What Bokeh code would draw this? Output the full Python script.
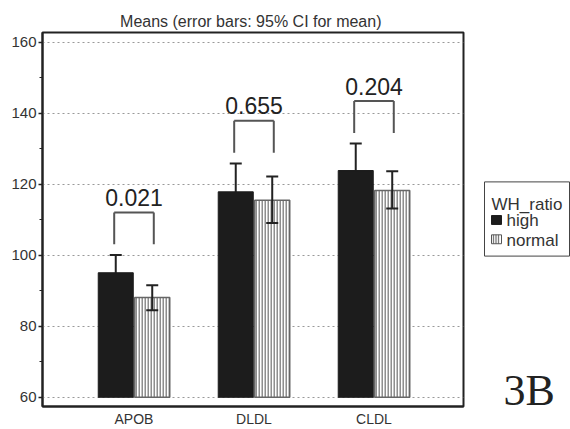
from bokeh.plotting import figure
from bokeh.layouts import row
from bokeh.models import FixedTicker, Range1d
from bokeh.core.properties import value
from bokeh.embed import file_html
from bokeh.resources import INLINE

# ---- data ----
categories = ["APOB", "DLDL", "CLDL"]
high_mean = [95.1, 117.9, 123.9]
high_lower = [90.0, 109.9, 116.3]
high_upper = [100.1, 125.9, 131.5]
normal_mean = [88.1, 115.5, 118.3]
normal_lower = [84.5, 109.1, 113.2]
normal_upper = [91.6, 122.2, 123.7]
p_values = ["0.021", "0.655", "0.204"]
y_ticks = [60, 80, 100, 120, 140, 160]
y_minor = [70, 90, 110, 130, 150]
series_names = ["high", "normal"]
legend_title = "WH_ratio"
panel_tag = "3B"

FONT = "Liberation Sans"
TXT = "#333333"
pos = [1, 2, 3]
off = 0.152
bw = 0.292
cap = 0.05
stripe_step = 0.025
BORDER_TOP = 32
BORDER_BOTTOM = 19

p = figure(width=465, height=429, output_backend="svg", toolbar_location=None,
           x_range=Range1d(0.2375, 3.746), y_range=Range1d(57.41, 162.79),
           min_border_left=42, min_border_right=2,
           min_border_top=BORDER_TOP, min_border_bottom=BORDER_BOTTOM,
           title="Means  (error bars: 95% CI for mean)")
p.title.align = "center"
p.title.text_font = FONT
p.title.text_font_size = "16px"
p.title.text_font_style = "normal"
p.title.text_color = TXT
p.title.standoff = 5

p.outline_line_color = "#222222"
p.outline_line_width = 2
p.background_fill_color = "white"
p.border_fill_color = "white"

p.xgrid.grid_line_color = None
p.ygrid.grid_line_color = "#999999"
p.ygrid.grid_line_dash = "2 3"
p.ygrid.grid_line_width = 1

p.yaxis.ticker = FixedTicker(ticks=y_ticks, minor_ticks=y_minor)
p.yaxis.axis_line_color = "#222222"
p.yaxis.axis_line_width = 2
p.yaxis.major_tick_out = 4
p.yaxis.major_tick_in = 0
p.yaxis.minor_tick_out = 3
p.yaxis.minor_tick_in = 0
p.yaxis.major_tick_line_color = "#222222"
p.yaxis.minor_tick_line_color = "#222222"
p.yaxis.major_tick_line_width = 1.5
p.yaxis.major_label_text_font = FONT
p.yaxis.major_label_text_font_size = "15px"
p.yaxis.major_label_text_color = TXT
p.yaxis.major_label_standoff = 2

p.xaxis.ticker = FixedTicker(ticks=pos)
p.xaxis.major_label_overrides = {k: c for k, c in zip(pos, categories)}
p.xaxis.major_tick_line_color = None
p.xaxis.minor_tick_line_color = None
p.xaxis.major_tick_out = 0
p.xaxis.major_tick_in = 0
p.xaxis.axis_line_color = "#222222"
p.xaxis.axis_line_width = 2
p.xaxis.major_label_text_font = FONT
p.xaxis.major_label_text_font_size = "14px"
p.xaxis.major_label_text_color = TXT
p.xaxis.major_label_standoff = 4

xh = [x - off for x in pos]
xn = [x + off for x in pos]


def error_bars(xs, lo, hi):
    p.segment(x0=xs, y0=lo, x1=xs, y1=hi, line_color="#222222", line_width=2)
    p.segment(x0=[x - cap for x in xs], y0=hi, x1=[x + cap for x in xs], y1=hi,
              line_color="#222222", line_width=2)
    p.segment(x0=[x - cap for x in xs], y0=lo, x1=[x + cap for x in xs], y1=lo,
              line_color="#222222", line_width=2)


# "high": whiskers first, so the solid bar hides the lower half
error_bars(xh, high_lower, high_upper)
p.vbar(x=xh, width=bw, bottom=60, top=high_mean,
       fill_color="#1c1c1c", line_color="#1c1c1c", line_width=1)

# "normal": striped bars
p.vbar(x=xn, width=bw, bottom=60, top=normal_mean, fill_color="white", line_color=None)
sx, sy0, sy1 = [], [], []
for x, top in zip(xn, normal_mean):
    s = x - bw / 2 + stripe_step / 2
    while s < x + bw / 2:
        sx.append(s)
        sy0.append(60)
        sy1.append(top)
        s += stripe_step
p.segment(x0=sx, y0=sy0, x1=sx, y1=sy1, line_color="#7c7c7c", line_width=1.3)
p.vbar(x=xn, width=bw, bottom=60, top=normal_mean,
       fill_color=None, line_color="#666666", line_width=1.5)
error_bars(xn, normal_lower, normal_upper)

# significance brackets
leg = 0.165
b_bot = [max(a, b) + 3.0 for a, b in zip(high_upper, normal_upper)]
b_top = [b + 9 for b in b_bot]
bl = [x - leg for x in pos]
br = [x + leg for x in pos]
p.segment(x0=bl, y0=b_top, x1=br, y1=b_top, line_color="#555555", line_width=2)
p.segment(x0=bl, y0=b_bot, x1=bl, y1=b_top, line_color="#555555", line_width=2)
p.segment(x0=br, y0=b_bot, x1=br, y1=b_top, line_color="#555555", line_width=2)
p.text(x=pos, y=[t + 1.8 for t in b_top], text=p_values, text_align="center",
       text_baseline="bottom", text_font=value(FONT), text_font_size="23px",
       text_color="#222222")

# ---- side panel: legend + panel tag (data coordinates = page pixels) ----
q = figure(width=105, height=429, output_backend="svg", toolbar_location=None,
           x_range=Range1d(465, 570), y_range=Range1d(429 - BORDER_BOTTOM, BORDER_TOP),
           x_axis_type=None, y_axis_type=None,
           min_border_left=0, min_border_right=0,
           min_border_top=BORDER_TOP, min_border_bottom=BORDER_BOTTOM)
q.outline_line_color = None
q.grid.grid_line_color = None
q.background_fill_color = "white"
q.border_fill_color = "white"

q.quad(left=484, right=569, top=183, bottom=258, fill_color="white",
       line_color="#444444", line_width=1)
q.text(x=[491], y=[215.5], text=[legend_title], text_font=value(FONT),
       text_font_size="17px", text_color=TXT, text_baseline="bottom")
q.quad(left=491, right=501, top=217, bottom=226, fill_color="#1c1c1c", line_color="#1c1c1c")
q.quad(left=491, right=501, top=236.5, bottom=245.5, fill_color="white", line_color=None)
q.segment(x0=[493, 495.5, 498], y0=[236.5] * 3, x1=[493, 495.5, 498], y1=[245.5] * 3,
          line_color="#7c7c7c", line_width=1.3)
q.quad(left=491, right=501, top=236.5, bottom=245.5, fill_color=None,
       line_color="#555555", line_width=1)
q.text(x=[506, 506], y=[231.5, 251.5], text=series_names, text_font=value(FONT),
       text_font_size="17px", text_color=TXT, text_baseline="bottom")
q.text(x=[503], y=[418.5], text=[panel_tag], text_font=value("Liberation Serif"),
       text_font_size="44px", text_color="#222222", text_baseline="bottom")

layout = row(p, q, spacing=0)
open("out.html", "w").write(file_html(layout, INLINE))
